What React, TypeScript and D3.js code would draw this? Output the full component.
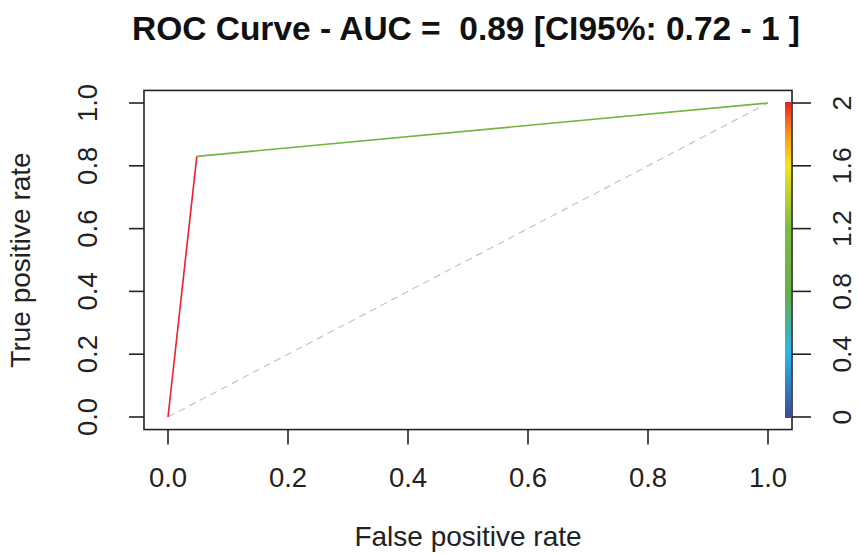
import React, { useEffect, useRef } from 'react';
import * as d3 from 'd3';

const W = 858;
const H = 554;

// ROC points
const fpr = [0, 0.048, 1];
const tpr = [0, 0.83, 1];
const cutoffs = [Infinity, 2, 1];

const xTicks = [0, 0.2, 0.4, 0.6, 0.8, 1];
const yTicks = [0, 0.2, 0.4, 0.6, 0.8, 1];
const cutTicks = [0, 0.4, 0.8, 1.2, 1.6, 2];

// palette of the cutoff colour bar
const paletteStops = [0, 0.4, 0.8, 1.2, 1.6, 1.8, 2];
const paletteColors = ['#3a469c', '#2bb6ea', '#66b044', '#7cbc43', '#f4e51a', '#f79420', '#e9212b'];

const TITLE = 'ROC Curve - AUC =  0.89 [CI95%: 0.72 - 1 ]';
const FONT = '"Liberation Sans", Arial, sans-serif';

const App: React.FC = () => {
    const svgRef = useRef<SVGSVGElement>(null);

    useEffect(() => {
        if (!svgRef.current) return;
        const svg = d3.select(svgRef.current);
        svg.selectAll('*').remove();

        const x = d3.scaleLinear().domain([0, 1]).range([168, 768]);
        const y = d3.scaleLinear().domain([0, 1]).range([417, 103]);
        const cy = d3.scaleLinear().domain([0, 2]).range([417, 103]);
        const color = d3.scaleLinear<string>().domain(paletteStops).range(paletteColors);

        const box = { x0: x(-0.04), x1: x(1.04), y0: y(1.04), y1: y(-0.04) };

        // colour bar gradient
        const grad = svg.append('defs').append('linearGradient')
            .attr('id', 'cbar').attr('x1', 0).attr('x2', 0).attr('y1', 1).attr('y2', 0);
        paletteStops.forEach(s => {
            grad.append('stop').attr('offset', s / 2).attr('stop-color', color(s));
        });

        // diagonal
        svg.append('line')
            .attr('x1', x(0)).attr('y1', y(0)).attr('x2', x(1)).attr('y2', y(1))
            .attr('stroke', '#c4c4c4').attr('stroke-width', 1.2)
            .attr('stroke-dasharray', '7,5');

        // ROC segments coloured by cutoff
        for (let i = 0; i < fpr.length - 1; i++) {
            svg.append('line')
                .attr('x1', x(fpr[i])).attr('y1', y(tpr[i]))
                .attr('x2', x(fpr[i + 1])).attr('y2', y(tpr[i + 1]))
                .attr('stroke', color(Math.min(2, cutoffs[i + 1])))
                .attr('stroke-width', 1.6);
        }

        // colour bar
        svg.append('rect')
            .attr('x', box.x1 - 7).attr('y', cy(2) - 1)
            .attr('width', 6).attr('height', cy(0) - cy(2) + 2)
            .attr('fill', 'url(#cbar)');

        // plot box
        svg.append('rect')
            .attr('x', box.x0).attr('y', box.y0)
            .attr('width', box.x1 - box.x0).attr('height', box.y1 - box.y0)
            .attr('fill', 'none').attr('stroke', '#222').attr('stroke-width', 1.6);

        const tickStyle = (sel: any) => sel.attr('stroke', '#222').attr('stroke-width', 1.6);

        // bottom axis
        const bx = svg.append('g');
        bx.selectAll('line').data(xTicks).enter().append('line')
            .attr('x1', d => x(d)).attr('x2', d => x(d))
            .attr('y1', box.y1).attr('y2', box.y1 + 15)
            .call(tickStyle);
        bx.selectAll('text').data(xTicks).enter().append('text')
            .attr('x', d => x(d)).attr('y', 487)
            .attr('text-anchor', 'middle')
            .text(d => d3.format('.1f')(d))
            .style('font-size', '27.5px').style('fill', '#222').style('font-family', FONT);

        // left axis
        const ly = svg.append('g');
        ly.selectAll('line').data(yTicks).enter().append('line')
            .attr('x1', box.x0 - 15).attr('x2', box.x0)
            .attr('y1', d => y(d)).attr('y2', d => y(d))
            .call(tickStyle);
        ly.selectAll('text').data(yTicks).enter().append('text')
            .attr('transform', d => `translate(97,${y(d)}) rotate(-90)`)
            .attr('text-anchor', 'middle')
            .text(d => d3.format('.1f')(d))
            .style('font-size', '27.5px').style('fill', '#222').style('font-family', FONT);

        // right axis for cutoff
        const ry = svg.append('g');
        ry.selectAll('line').data(cutTicks).enter().append('line')
            .attr('x1', box.x1).attr('x2', box.x1 + 19)
            .attr('y1', d => cy(d)).attr('y2', d => cy(d))
            .call(tickStyle);
        ry.selectAll('text').data(cutTicks).enter().append('text')
            .attr('transform', d => `translate(851,${cy(d)}) rotate(-90)`)
            .attr('text-anchor', 'middle')
            .text(d => String(d))
            .style('font-size', '26.5px').style('fill', '#222').style('font-family', FONT);

        // axis titles
        svg.append('text')
            .attr('x', (box.x0 + box.x1) / 2).attr('y', 546)
            .attr('text-anchor', 'middle')
            .text('False positive rate')
            .style('font-size', '28px').style('fill', '#222').style('font-family', FONT);

        svg.append('text')
            .attr('transform', `translate(30,${(box.y0 + box.y1) / 2}) rotate(-90)`)
            .attr('text-anchor', 'middle')
            .text('True positive rate')
            .style('font-size', '28px').style('fill', '#222').style('font-family', FONT);

        // title
        svg.append('text')
            .attr('x', 466).attr('y', 40)
            .attr('text-anchor', 'middle')
            .text(TITLE)
            .style('white-space', 'pre')
            .style('font-size', '33.5px').style('font-weight', 'bold')
            .style('fill', '#111').style('font-family', FONT);
    }, []);

    return (
        <svg ref={svgRef} width={W} height={H}
            style={{ position: 'absolute', left: 0, top: 0, background: 'white' }} />
    );
};

export default App;
